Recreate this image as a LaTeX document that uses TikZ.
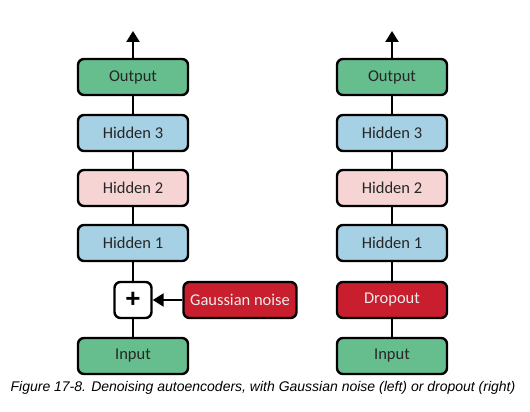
\documentclass[tikz,border=0pt]{standalone}
\usepackage{fontspec}
\setmainfont{Liberation Sans}
\newfontfamily\boxfont{Carlito}
\usepackage{xcolor}
\usetikzlibrary{arrows.meta, positioning}

\definecolor{layergreen}{RGB}{102,190,142}
\definecolor{layerblue}{RGB}{166,208,228}
\definecolor{layerpink}{RGB}{246,212,212}
\definecolor{noisered}{RGB}{200,30,45}

\tikzset{
    layer/.style={draw, line width=2.4pt, rounded corners=6pt,
        minimum width=110pt, minimum height=36pt, inner sep=0pt,
        font=\boxfont\fontsize{16.5}{18}\selectfont, text=black!85},
    greenlayer/.style={layer, fill=layergreen},
    bluelayer/.style={layer, fill=layerblue},
    pinklayer/.style={layer, fill=layerpink},
    redlayer/.style={layer, fill=noisered, text=white!92!black},
    addbox/.style={draw, line width=2.4pt, rounded corners=6pt, fill=white,
        minimum width=37pt, minimum height=36pt, inner sep=0pt,
        font=\bfseries\fontsize{26}{26}\selectfont},
    link/.style={line width=2.4pt},
    flow/.style={line width=2.4pt, -{Triangle[length=11pt, width=13pt]}}
}

\begin{document}
\begin{tikzpicture}[x=1pt, y=-1pt]
    \useasboundingbox (0,0) rectangle (530,412);

    % Left: Gaussian noise
    \node[greenlayer] (inL) at (133,356) {Input};
    \node[addbox] (plusL) at (133,300) {+};
    \node[redlayer, minimum width=113pt] (noise) at (240,300) {Gaussian noise};
    \node[bluelayer] (h1L) at (133,243) {Hidden 1};
    \node[pinklayer] (h2L) at (133,188) {Hidden 2};
    \node[bluelayer] (h3L) at (133,133) {Hidden 3};
    \node[greenlayer] (outL) at (133,77) {Output};
    \coordinate (topL) at (133,31);

    \draw[link] (inL) -- (plusL);
    \draw[link] (plusL) -- (h1L);
    \draw[link] (h1L) -- (h2L);
    \draw[link] (h2L) -- (h3L);
    \draw[link] (h3L) -- (outL);
    \draw[flow] (outL) -- (topL);
    \draw[flow] (noise) -- (plusL);

    % Right: dropout
    \node[greenlayer] (inR) at (392,356) {Input};
    \node[redlayer] (drop) at (392,300) {Dropout};
    \node[bluelayer] (h1R) at (392,243) {Hidden 1};
    \node[pinklayer] (h2R) at (392,188) {Hidden 2};
    \node[bluelayer] (h3R) at (392,133) {Hidden 3};
    \node[greenlayer] (outR) at (392,77) {Output};
    \coordinate (topR) at (392,31);

    \draw[link] (inR) -- (drop);
    \draw[link] (drop) -- (h1R);
    \draw[link] (h1R) -- (h2R);
    \draw[link] (h2R) -- (h3R);
    \draw[link] (h3R) -- (outR);
    \draw[flow] (outR) -- (topR);

    % Caption
    \node[font=\itshape\fontsize{14}{16}\selectfont] (caption) at (263,388)
        {Figure 17-8. Denoising autoencoders, with Gaussian noise (left) or dropout (right)};
\end{tikzpicture}
\end{document}
